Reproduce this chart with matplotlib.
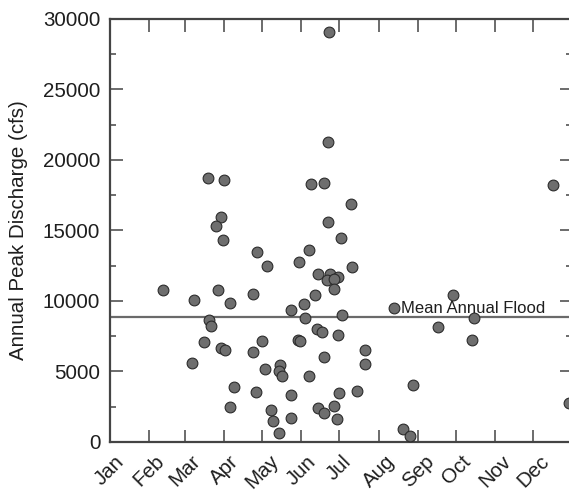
import matplotlib
matplotlib.use("Agg")
import matplotlib.pyplot as plt
from matplotlib.ticker import MultipleLocator

plt.rcParams["font.family"] = ["Liberation Sans", "DejaVu Sans"]

# Day of year (Jan 1 = 0) of each annual peak and its discharge (cfs)
peak_day = [
    173, 172, 77, 90, 159, 169, 88, 84, 89, 172,
    190, 182, 350, 116, 42, 66, 85, 95, 113, 78,
    80, 74, 88, 91, 113, 65, 98, 115, 95, 157,
    124, 149, 191, 164, 174, 171, 180, 177, 177, 162,
    153, 143, 154, 183, 163, 167, 180, 120, 148, 150,
    169, 201, 201, 122, 134, 133, 136, 157, 143, 181,
    195, 127, 164, 169, 177, 129, 143, 179, 133, 224,
    271, 287, 259, 286, 239, 231, 237, 362,
]
peak_cfs = [
    29100, 21300, 18700, 18580, 18320, 18390, 15980, 15300, 14300, 15600,
    16900, 14500, 18200, 13500, 10780, 10090, 10780, 9880, 10500, 8650,
    8230, 7110, 6640, 6550, 6360, 5600, 3920, 3550, 2500, 13590,
    12500, 12790, 12410, 11910, 11940, 11490, 11700, 11560, 10870, 10400,
    9810, 9360, 8770, 9010, 7990, 7800, 7610, 7160, 7250, 7160,
    6030, 6500, 5530, 5180, 5480, 5030, 4680, 4700, 3310, 3470,
    3590, 2270, 2410, 2060, 2580, 1470, 1700, 1610, 620, 9480,
    10400, 8820, 8180, 7210, 4020, 900, 400, 2740,
]

mean_annual_flood = 8890
mean_label = "Mean Annual Flood"
mean_label_day = 230

month_labels = ["Jan", "Feb", "Mar", "Apr", "May", "Jun",
                "Jul", "Aug", "Sep", "Oct", "Nov", "Dec"]
month_start = [0, 31, 59, 90, 120, 151, 181, 212, 243, 273, 304, 334]

fig = plt.figure(figsize=(5.69, 4.94), dpi=100)
ax = fig.add_axes([0.1933, 0.1053, 0.8128, 0.8563])

spine_col = "#444444"
text_col = "#1e1e1e"

ax.axhline(mean_annual_flood, color="#6a6a6a", lw=1.6, zorder=2)
ax.scatter(peak_day, peak_cfs, s=60, facecolor="#6e6e6e",
           edgecolor="#2b2b2b", linewidth=0.8, zorder=3)
ax.annotate(mean_label, xy=(mean_label_day, mean_annual_flood),
            xytext=(0, 4), textcoords="offset pixels",
            ha="left", va="baseline", fontsize=12, color=text_col, zorder=5)

ax.set_xlim(0, 365)
ax.set_ylim(0, 30000)
ax.set_xticks(month_start)
ax.set_xticklabels(month_labels, rotation=45, ha="center")
ax.yaxis.set_major_locator(MultipleLocator(5000))
ax.yaxis.set_minor_locator(MultipleLocator(2500))

ax.tick_params(axis="both", which="major", direction="in", length=9,
               width=1.1, color=spine_col, labelsize=14.8,
               labelcolor=text_col, pad=7, top=True, right=True)
ax.tick_params(axis="y", which="minor", direction="in", length=4.5,
               width=1.1, color=spine_col, right=True)

for sp in ax.spines.values():
    sp.set_color(spine_col)
    sp.set_linewidth(1.6)

ax.set_ylabel("Annual Peak Discharge (cfs)", fontsize=14.8,
              color=text_col, labelpad=11)

fig.savefig("out.png", dpi=100)
